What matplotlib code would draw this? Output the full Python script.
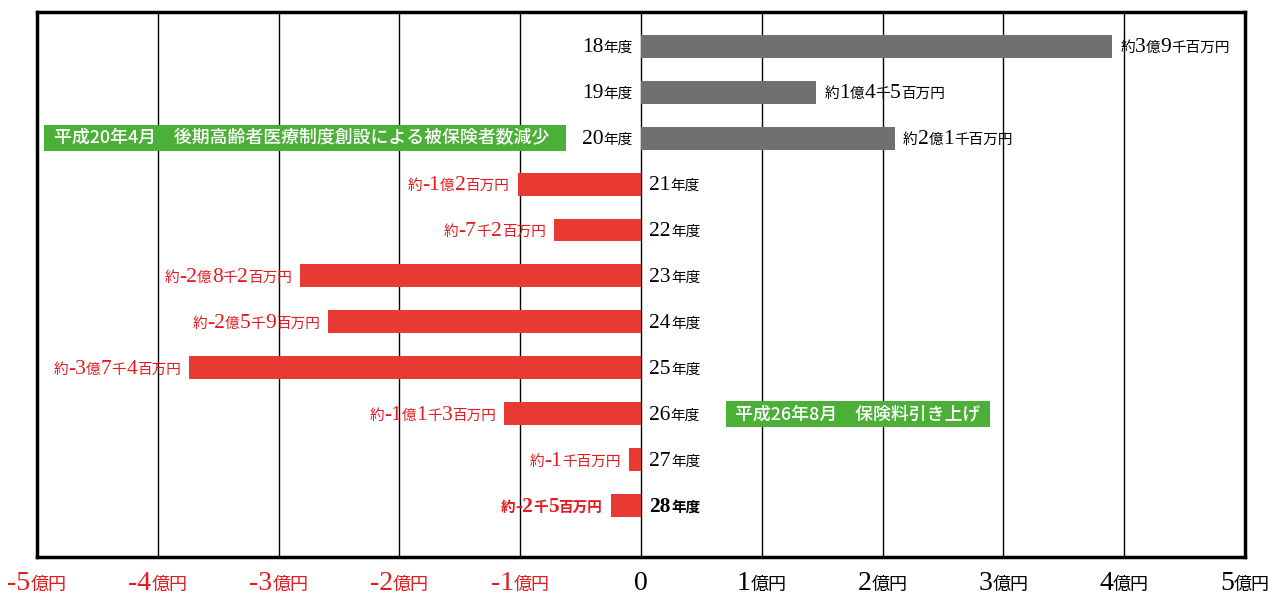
import matplotlib
matplotlib.use("Agg")
import matplotlib.pyplot as plt
from matplotlib.patches import Rectangle
from matplotlib.transforms import offset_copy, blended_transform_factory

# データ (億円)
years = ['18年度', '19年度', '20年度', '21年度', '22年度', '23年度',
         '24年度', '25年度', '26年度', '27年度', '28年度']
values = [3.90, 1.45, 2.10, -1.02, -0.72, -2.82, -2.59, -3.74, -1.13, -0.10, -0.25]
value_labels = ['約3億9千百万円', '約1億4千5百万円', '約2億1千百万円', '約-1億2百万円',
                '約-7千2百万円', '約-2億8千2百万円', '約-2億5千9百万円', '約-3億7千4百万円',
                '約-1億1千3百万円', '約-1千百万円', '約-2千5百万円']
xticks = [-5, -4, -3, -2, -1, 0, 1, 2, 3, 4, 5]
xtick_labels = ['-5億円', '-4億円', '-3億円', '-2億円', '-1億円', '0',
                '1億円', '2億円', '3億円', '4億円', '5億円']
note_texts = ['平成20年4月　後期高齢者医療制度創設による被保険者数減少',
              '平成26年8月　保険料引き上げ']
note_rows = [2, 8]
note_spans = [(-4.94, -0.62), (0.70, 2.89)]

GREY = '#707070'
RED = '#e83a32'
TRED = '#e5191f'
GREEN = '#4caf38'
SERIF = ['Liberation Serif', 'DejaVu Serif']
CJK = ['Noto Sans CJK JP', 'DejaVu Sans']

fig = plt.figure(figsize=(12.73, 5.94), dpi=100)
ax = fig.add_axes([37 / 1273, 1 - 557 / 594, (1245 - 37) / 1273, (557 - 12) / 594])
renderer = fig.canvas.get_renderer()

ypos = list(range(len(years)))
colors = [GREY if v > 0 else RED for v in values]
ax.barh(ypos, values, height=0.5, color=colors, zorder=3)

ax.set_xlim(-5, 5)
ax.set_ylim(len(years) - 1 + 1.11, -0.74)
ax.set_xticks(xticks)
ax.set_xticklabels([])
ax.set_yticks([])
ax.tick_params(length=0)
ax.grid(axis='x', color='black', lw=1, zorder=1)
for s in ax.spines.values():
    s.set_linewidth(2.5)


def split_runs(s):
    runs = []
    for ch in s:
        big = ch.isdigit() or ch == '-'
        if runs and runs[-1][1] == big:
            runs[-1][0] += ch
        else:
            runs.append([ch, big])
    return runs


def mixed_text(x, y, s, ha, color, bold=False, big=15.5, small=10.5, trans=None, dy=-6):
    trans = trans if trans is not None else ax.transData
    w = 'bold' if bold else 'normal'
    arts = []
    for txt, isbig in split_runs(s):
        t = ax.text(x, y, txt, fontsize=big if isbig else small,
                    family=SERIF if isbig else CJK, color=color, weight=w,
                    va='baseline', ha='left', transform=trans, clip_on=False, zorder=6)
        arts.append(t)
    widths = [t.get_window_extent(renderer).width for t in arts]
    total = sum(widths)
    start = {'left': 0, 'right': -total, 'center': -total / 2}[ha]
    off = start
    for t, wd in zip(arts, widths):
        t.set_transform(offset_copy(trans, fig=fig, x=off, y=dy, units='dots'))
        off += wd


for i, (yr, v, lab) in enumerate(zip(years, values, value_labels)):
    bold = (i == len(years) - 1)
    if v > 0:
        mixed_text(-0.07, i, yr, 'right', 'black', bold)
        mixed_text(v + 0.07, i, lab, 'left', 'black', bold)
    else:
        mixed_text(0.07, i, yr, 'left', 'black', bold)
        mixed_text(v - 0.07, i, lab, 'right', TRED, bold)

btrans = blended_transform_factory(ax.transData, ax.transAxes)
for xt, lab in zip(xticks, xtick_labels):
    col = TRED if xt < 0 else 'black'
    mixed_text(xt, -0.06, lab, 'center', col, big=20, small=13, trans=btrans, dy=0)

# 注記
for row, (x0, x1), txt in zip(note_rows, note_spans, note_texts):
    ax.add_patch(Rectangle((x0, row - 0.29), x1 - x0, 0.58, fc=GREEN, ec='none', zorder=5))
    ax.text(x0 + 0.08, row, txt, color='white', fontsize=12.9, family=CJK,
            weight='medium', va='center', ha='left', zorder=6)

fig.savefig('out.png', dpi=100)
